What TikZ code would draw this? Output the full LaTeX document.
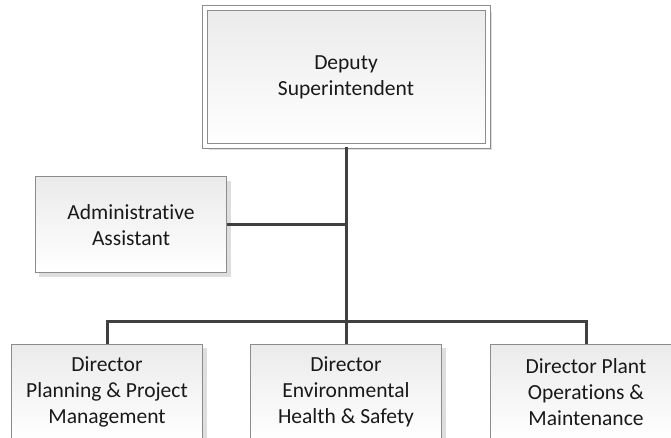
\documentclass[tikz,border=0pt]{standalone}
\usepackage{fontspec}
\setmainfont{Carlito}[Ligatures=NoCommon]
\usepackage{tikz}
\usetikzlibrary{shadows}
\tikzstyle{orgbox}=[rectangle,draw=black!45,line width=1bp,top color=black!8,bottom color=white,
  drop shadow={shadow xshift=4bp,shadow yshift=-4bp,fill=black!13,opacity=1},
  minimum width=191bp,minimum height=96bp,align=center,text=black!90,
  font=\fontsize{21.6}{25.8}\selectfont]
\tikzstyle{headbox}=[double=white,double distance=4bp,minimum width=283bp,minimum height=138bp]
\tikzstyle{link}=[line width=3bp,draw=black!75]
\newcommand{\orgnode}{\node[orgbox]}
\newcommand{\headnode}{\node[orgbox,headbox]}

\begin{document}
\begin{tikzpicture}[x=1bp,y=-1bp]
      \useasboundingbox (0,0) rectangle (671,438);
      \headnode (deputy) at (346,77.5) {Deputy\\Superintendent}; %
      \orgnode (admin) at (131,225) {Administrative\\Assistant}; %
      \orgnode (planning) at (107,392) {Director\\Planning \& Project\\Management};
      \orgnode (ehs) at (346,392) {Director\\Environmental\\Health \& Safety};
      \orgnode (plant) at (586,392) {Director Plant\\Operations \&\\Maintenance};
      \coordinate (bar) at (346,321);
      \draw[link] (deputy) -- (ehs);
      \draw[link] (admin.east) -- (admin.east -| deputy.south);
      \draw[link] (planning.north) |- (bar) -| (plant.north);
    \end{tikzpicture}
\end{document}
